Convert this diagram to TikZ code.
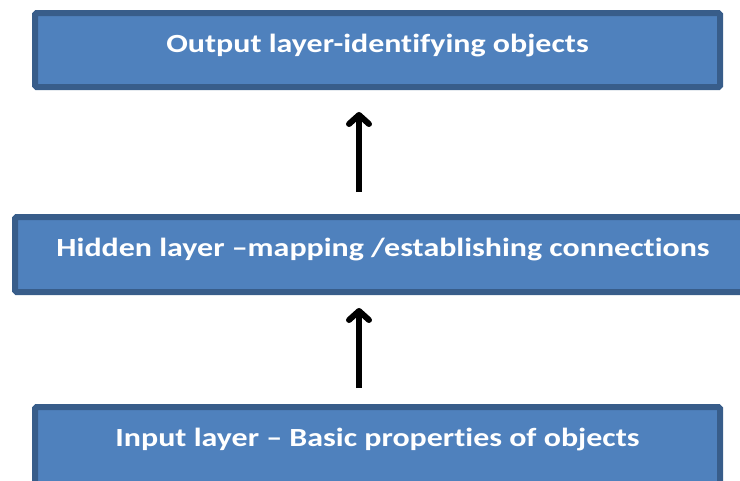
\documentclass[tikz,border=0pt]{standalone}
\usepackage{fontspec}
\setmainfont[Ligatures=NoCommon, FakeStretch=1.22]{Carlito}
\usetikzlibrary{arrows.meta}
\definecolor{layerfill}{HTML}{4F81BD}
\definecolor{layerline}{HTML}{385D8A}
\tikzset{
  layerbox/.style={draw=layerline, fill=layerfill, line width=6pt,
    rounded corners=1.5pt, inner xsep=0pt, inner ysep=0pt, anchor=base,
    text=white, font=\bfseries\fontsize{26.2}{30}\selectfont, align=center},
  uparrow/.style={line width=6pt, -{Straight Barb[length=9pt,width=20pt,round]}}
}
\begin{document}
\begin{tikzpicture}[x=1pt,y=-1pt]
  \useasboundingbox (0,0) rectangle (740,480);
  \clip (0,0) rectangle (740,480);
  % output layer: box 13..87, baseline at 52
  \node[layerbox, minimum width=685pt, text height=39pt, text depth=35pt]
    (out) at (377.5,52) {Output layer-identifying objects};
  % hidden layer: box 217..292, baseline at 256
  \node[layerbox, minimum width=736pt, text height=39pt, text depth=36pt]
    (hid) at (383,256) {Hidden layer –mapping /establishing connections};
  % input layer: box 407..500, baseline at 446
  \node[layerbox, minimum width=685pt, text height=39pt, text depth=54pt]
    (inp) at (377.5,446) {Input layer – Basic properties of objects};
  % connectors
  \coordinate (a1s) at (359,192);
  \coordinate (a1e) at (359,112);
  \coordinate (a2s) at (359,388);
  \coordinate (a2e) at (359,308);
  \draw[uparrow] (a1s) -- (a1e);
  \draw[uparrow] (a2s) -- (a2e);
\end{tikzpicture}
\end{document}
